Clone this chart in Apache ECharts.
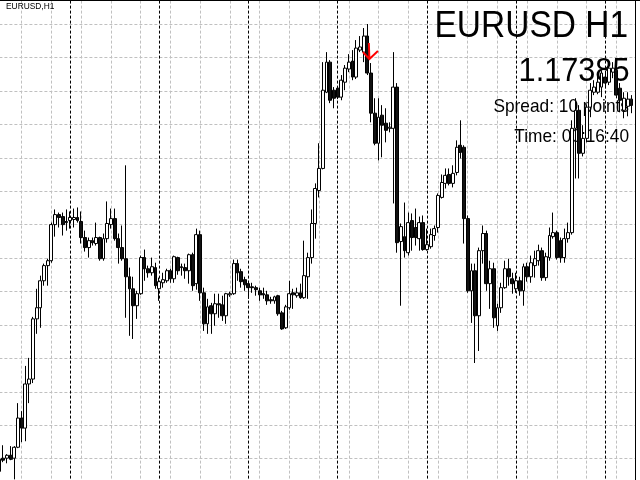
<!DOCTYPE html>
<html>
<head>
<meta charset="utf-8">
<title>EURUSD H1</title>
<script src="https://cdn.jsdelivr.net/npm/echarts@6/dist/echarts.min.js"></script>
<style>
  html, body { margin: 0; padding: 0; background: #fff; }
  #chart { width: 640px; height: 480px; }
</style>
</head>
<body>
<div id="chart"></div>
<script>
// hourly bars, oldest first
const opens = [
  1.15797, 1.15802, 1.15802, 1.15815, 1.15802, 1.15851, 1.15982, 1.15937, 1.16135, 1.16157,
  1.16427, 1.16477, 1.16598, 1.16666, 1.16688, 1.16850, 1.16895, 1.16886, 1.16859, 1.16868,
  1.16873, 1.16882, 1.16864, 1.16792, 1.16747, 1.16778, 1.16765, 1.16792, 1.16697, 1.16787,
  1.16850, 1.16877, 1.16787, 1.16747, 1.16697, 1.16616, 1.16562, 1.16486, 1.16540, 1.16702,
  1.16652, 1.16634, 1.16657, 1.16562, 1.16589, 1.16598, 1.16643, 1.16607, 1.16702, 1.16661,
  1.16657, 1.16643, 1.16715, 1.16585, 1.16805, 1.16544, 1.16405, 1.16486, 1.16450, 1.16495,
  1.16490, 1.16441, 1.16535, 1.16540, 1.16675, 1.16639, 1.16603, 1.16585, 1.16571, 1.16567,
  1.16553, 1.16540, 1.16535, 1.16513, 1.16508, 1.16531, 1.16454, 1.16387, 1.16477, 1.16544,
  1.16531, 1.16544, 1.16522, 1.16616, 1.16702, 1.16855, 1.17003, 1.17102, 1.17444, 1.17579,
  1.17453, 1.17462, 1.17422, 1.17489, 1.17548, 1.17584, 1.17512, 1.17633, 1.17624, 1.17696,
  1.17530, 1.17350, 1.17215, 1.17341, 1.17305, 1.17282, 1.17282, 1.17467, 1.16774, 1.16796,
  1.16724, 1.16868, 1.16837, 1.16787, 1.16859, 1.16738, 1.16751, 1.16801, 1.16837, 1.16972,
  1.17035, 1.17075, 1.17035, 1.17084, 1.17206, 1.17197, 1.16877, 1.16553, 1.16643, 1.16441,
  1.16733, 1.16810, 1.16585, 1.16652, 1.16396, 1.16477, 1.16567, 1.16652, 1.16607, 1.16562,
  1.16598, 1.16553, 1.16661, 1.16616, 1.16666, 1.16688, 1.16733, 1.16612, 1.16702, 1.16796,
  1.16814, 1.16778, 1.16702, 1.16787, 1.16814, 1.17282, 1.17363, 1.17170, 1.17237, 1.17377,
  1.17444, 1.17444, 1.17467, 1.17512, 1.17489, 1.17534, 1.17543, 1.17462, 1.17363, 1.17381,
  1.17413
];
const closes = [
  1.15743, 1.15793, 1.15815, 1.15797, 1.15851, 1.15982, 1.15937, 1.16135, 1.16157, 1.16427,
  1.16477, 1.16598, 1.16666, 1.16688, 1.16850, 1.16895, 1.16882, 1.16850, 1.16864, 1.16882,
  1.16882, 1.16868, 1.16792, 1.16747, 1.16778, 1.16769, 1.16792, 1.16697, 1.16787, 1.16855,
  1.16877, 1.16787, 1.16747, 1.16697, 1.16616, 1.16562, 1.16486, 1.16540, 1.16702, 1.16652,
  1.16634, 1.16661, 1.16576, 1.16594, 1.16603, 1.16643, 1.16607, 1.16706, 1.16643, 1.16657,
  1.16643, 1.16715, 1.16576, 1.16805, 1.16544, 1.16405, 1.16481, 1.16450, 1.16495, 1.16490,
  1.16441, 1.16540, 1.16540, 1.16675, 1.16634, 1.16594, 1.16580, 1.16567, 1.16567, 1.16558,
  1.16535, 1.16535, 1.16508, 1.16508, 1.16526, 1.16450, 1.16382, 1.16481, 1.16540, 1.16535,
  1.16544, 1.16522, 1.16621, 1.16702, 1.16855, 1.17012, 1.17102, 1.17453, 1.17579, 1.17408,
  1.17417, 1.17422, 1.17498, 1.17552, 1.17579, 1.17512, 1.17642, 1.17647, 1.17696, 1.17530,
  1.17350, 1.17215, 1.17332, 1.17296, 1.17273, 1.17287, 1.17467, 1.16769, 1.16841, 1.16733,
  1.16859, 1.16792, 1.16792, 1.16859, 1.16738, 1.16760, 1.16805, 1.16832, 1.16981, 1.17039,
  1.17071, 1.17035, 1.17080, 1.17197, 1.17174, 1.16877, 1.16553, 1.16643, 1.16441, 1.16733,
  1.16810, 1.16585, 1.16652, 1.16432, 1.16477, 1.16567, 1.16652, 1.16616, 1.16585, 1.16598,
  1.16553, 1.16661, 1.16616, 1.16679, 1.16697, 1.16733, 1.16612, 1.16706, 1.16801, 1.16814,
  1.16702, 1.16702, 1.16787, 1.16814, 1.17282, 1.17363, 1.17170, 1.17237, 1.17377, 1.17453,
  1.17467, 1.17489, 1.17530, 1.17485, 1.17552, 1.17552, 1.17431, 1.17408, 1.17417, 1.17413,
  1.17385
];
const highs = [
  1.15811, 1.15860, 1.15820, 1.15856, 1.15856, 1.16049, 1.16013, 1.16216, 1.16252, 1.16436,
  1.16562, 1.16621, 1.16675, 1.16697, 1.16859, 1.16918, 1.16904, 1.16904, 1.16918, 1.16909,
  1.16922, 1.16927, 1.16909, 1.16823, 1.16792, 1.16792, 1.16859, 1.16796, 1.16810, 1.16954,
  1.16922, 1.16922, 1.16810, 1.16846, 1.17116, 1.16657, 1.16616, 1.16553, 1.16711, 1.16738,
  1.16666, 1.16702, 1.16679, 1.16612, 1.16634, 1.16652, 1.16652, 1.16711, 1.16706, 1.16675,
  1.16675, 1.16720, 1.16724, 1.16832, 1.16823, 1.16567, 1.16517, 1.16499, 1.16540, 1.16540,
  1.16531, 1.16544, 1.16549, 1.16693, 1.16693, 1.16652, 1.16616, 1.16598, 1.16589, 1.16576,
  1.16567, 1.16567, 1.16553, 1.16526, 1.16531, 1.16535, 1.16463, 1.16490, 1.16598, 1.16562,
  1.16567, 1.16585, 1.16778, 1.16724, 1.16918, 1.17035, 1.17215, 1.17579, 1.17624, 1.17588,
  1.17467, 1.17467, 1.17521, 1.17566, 1.17615, 1.17633, 1.17678, 1.17696, 1.17732, 1.17750,
  1.17575, 1.17417, 1.17417, 1.17386, 1.17372, 1.17309, 1.17624, 1.17485, 1.16855, 1.16949,
  1.16904, 1.16900, 1.16922, 1.16886, 1.16891, 1.16832, 1.16832, 1.16846, 1.16990, 1.17075,
  1.17102, 1.17102, 1.17116, 1.17228, 1.17318, 1.17206, 1.16891, 1.16675, 1.16675, 1.16747,
  1.16846, 1.16823, 1.16688, 1.16679, 1.16495, 1.16589, 1.16688, 1.16697, 1.16634, 1.16634,
  1.16616, 1.16675, 1.16679, 1.16711, 1.16733, 1.16760, 1.16747, 1.16724, 1.16837, 1.16904,
  1.16823, 1.16792, 1.16832, 1.16859, 1.17318, 1.17417, 1.17386, 1.17296, 1.17390, 1.17485,
  1.17498, 1.17521, 1.17543, 1.17534, 1.17575, 1.17579, 1.17561, 1.17485, 1.17444, 1.17444,
  1.17431
];
const lows = [
  1.15707, 1.15784, 1.15779, 1.15793, 1.15707, 1.15847, 1.15874, 1.15878, 1.16049, 1.16139,
  1.16360, 1.16387, 1.16576, 1.16576, 1.16679, 1.16796, 1.16837, 1.16801, 1.16823, 1.16832,
  1.16837, 1.16859, 1.16765, 1.16729, 1.16702, 1.16756, 1.16756, 1.16688, 1.16688, 1.16769,
  1.16832, 1.16778, 1.16675, 1.16688, 1.16432, 1.16351, 1.16337, 1.16427, 1.16535, 1.16598,
  1.16612, 1.16621, 1.16562, 1.16508, 1.16567, 1.16589, 1.16589, 1.16589, 1.16625, 1.16621,
  1.16607, 1.16585, 1.16553, 1.16558, 1.16508, 1.16373, 1.16360, 1.16360, 1.16396, 1.16432,
  1.16418, 1.16405, 1.16526, 1.16535, 1.16598, 1.16567, 1.16553, 1.16517, 1.16544, 1.16531,
  1.16508, 1.16517, 1.16490, 1.16495, 1.16495, 1.16441, 1.16378, 1.16382, 1.16468, 1.16472,
  1.16522, 1.16517, 1.16517, 1.16517, 1.16675, 1.16787, 1.16972, 1.17098, 1.17440, 1.17395,
  1.17372, 1.17413, 1.17408, 1.17453, 1.17534, 1.17498, 1.17503, 1.17624, 1.17579, 1.17521,
  1.17309, 1.17206, 1.17138, 1.17152, 1.17219, 1.17264, 1.16945, 1.16724, 1.16486, 1.16702,
  1.16711, 1.16733, 1.16756, 1.16733, 1.16733, 1.16733, 1.16742, 1.16778, 1.16814, 1.16967,
  1.17012, 1.17026, 1.17017, 1.17071, 1.17147, 1.16765, 1.16544, 1.16409, 1.16229, 1.16283,
  1.16675, 1.16553, 1.16472, 1.16387, 1.16373, 1.16454, 1.16562, 1.16576, 1.16540, 1.16544,
  1.16531, 1.16486, 1.16594, 1.16589, 1.16612, 1.16666, 1.16598, 1.16598, 1.16688, 1.16787,
  1.16693, 1.16679, 1.16679, 1.16769, 1.16805, 1.17057, 1.17057, 1.17156, 1.17219, 1.17332,
  1.17431, 1.17435, 1.17422, 1.17462, 1.17476, 1.17507, 1.17417, 1.17354, 1.17327, 1.17336,
  1.17350
];

const symbolName = 'EURUSD';
const period = 'H1';
const bidText = '1.17385';
const spreadText = 'Spread: 10 points';
const timeText = 'Time: 00:16:40';

// sell arrow object placed on the chart
const arrowBar = 99;
const arrowPrice = 1.17629;

// one spare slot after the last bar: the chart's right edge sits there
const bars = opens.map((_, i) => String(i)).concat(['']);

const chartRef = document.getElementById('chart');
let chart = null;

function initChart() {
  chart = echarts.init(chartRef, null, { renderer: 'canvas', width: 640, height: 480 });
  chart.setOption(getOption());
}

function getOption() {
  const gridLine = { color: '#c0c0c0', width: 1, type: [3, 2] };
  const hidden = { show: false };
  const textFont = (size) => size + 'px "Liberation Sans", Arial, sans-serif';

  return {
    animation: false,
    backgroundColor: '#ffffff',
    grid: {
      left: -0.6,
      right: 5,
      top: -9.4,
      bottom: -12.05,
      containLabel: false,
      outerBoundsMode: 'none',
    },
    xAxis: [
      {
        type: 'category',
        data: bars,
        boundaryGap: false,
        axisLine: hidden,
        axisTick: hidden,
        axisLabel: hidden,
        // grid every 8 bars
        splitLine: { show: true, interval: (i) => i % 8 === 6, lineStyle: gridLine },
      },
      {
        type: 'category',
        data: bars,
        boundaryGap: false,
        position: 'top',
        axisLine: hidden,
        axisTick: hidden,
        axisLabel: hidden,
        // period separators, one per day
        splitLine: {
          show: true,
          interval: (i) => i % 24 === 19,
          lineStyle: { color: '#000000', width: 1, type: [3, 2] },
        },
      },
    ],
    yAxis: {
      type: 'value',
      position: 'right',
      min: 1.1565,
      max: 1.179,
      interval: 0.0015,
      axisLine: { show: true, lineStyle: { color: '#000000', width: 1 } },
      axisTick: hidden,
      axisLabel: hidden,
      splitLine: { show: true, lineStyle: gridLine },
    },
    series: [
      {
        type: 'candlestick',
        xAxisIndex: 0,
        silent: true,
        barWidth: 3.4,
        data: opens.map((o, i) => [o, closes[i], lows[i], highs[i]]),
        itemStyle: {
          color: '#ffffff',
          color0: '#111111',
          borderColor: '#000000',
          borderColor0: '#000000',
          borderWidth: 1,
        },
        markPoint: {
          silent: true,
          symbol: 'path://M6,0 L6.5,16 M0,9 L6.5,16 L15,8',
          symbolSize: [15, 16],
          symbolOffset: [3, 0],
          itemStyle: { color: 'rgba(0,0,0,0)', borderColor: '#ff0000', borderWidth: 2 },
          label: hidden,
          data: [{ coord: [arrowBar, arrowPrice] }],
        },
      },
    ],
    graphic: [
      {
        type: 'line',
        z: 10,
        shape: { x1: 0, y1: 0.5, x2: 640, y2: 0.5 },
        style: { stroke: '#000000', lineWidth: 1 },
      },
      {
        type: 'text', z: 1, x: 6, y: 7, scaleX: 0.93,
        style: { text: symbolName + ',' + period, font: textFont(9), fill: '#000', align: 'left', verticalAlign: 'middle' },
      },
      {
        type: 'text', z: 1, x: 628, y: 27, scaleX: 0.93,
        style: { text: symbolName + ' ' + period, font: textFont(36), fill: '#000', align: 'right', verticalAlign: 'middle' },
      },
      {
        type: 'text', z: 1, x: 629.5, y: 71.5, scaleX: 0.93,
        style: { text: bidText, font: textFont(33), fill: '#000', align: 'right', verticalAlign: 'middle' },
      },
      {
        type: 'text', z: 1, x: 629, y: 107, scaleX: 0.93,
        style: { text: spreadText, font: textFont(18.6), fill: '#000', align: 'right', verticalAlign: 'middle' },
      },
      {
        type: 'text', z: 1, x: 629, y: 136.5, scaleX: 0.93,
        style: { text: timeText, font: textFont(18.6), fill: '#000', align: 'right', verticalAlign: 'middle' },
      },
    ],
  };
}

initChart();
</script>
</body>
</html>
